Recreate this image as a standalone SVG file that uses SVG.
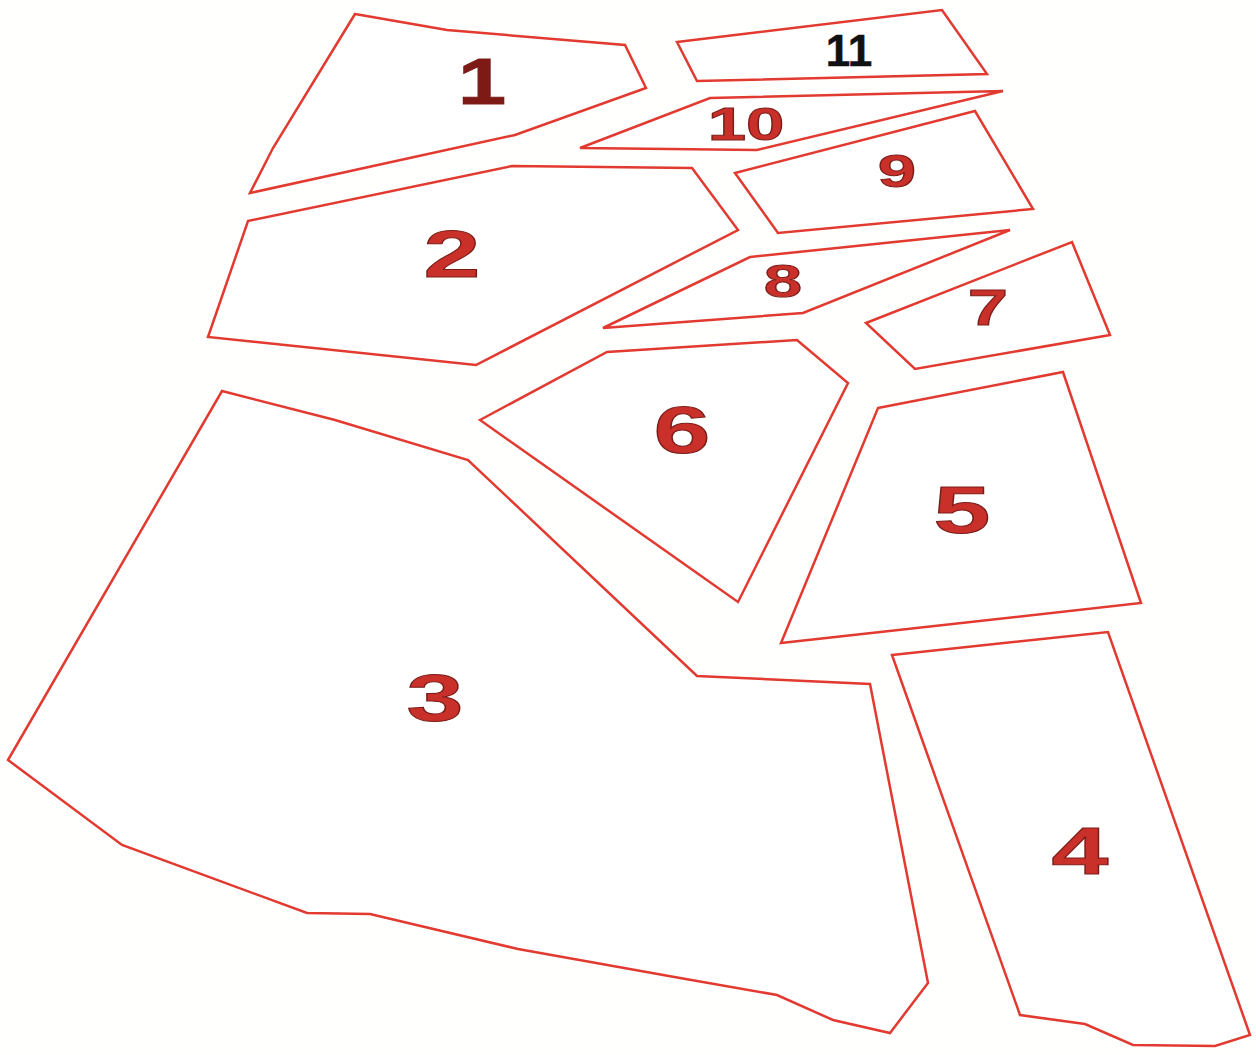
<svg xmlns="http://www.w3.org/2000/svg" width="1256" height="1055" viewBox="0 0 1256 1055">
<style>
.p{fill:#ffffff;stroke:#e23a30;stroke-width:2.5;stroke-linejoin:miter}
.t{font-family:"Liberation Sans",Arial,sans-serif;font-weight:bold;fill:#c9302a;stroke:#7a1c17;stroke-width:1;text-anchor:middle}
.k{fill:#111;stroke:#111;stroke-width:0.5}
</style>
<rect width="1256" height="1055" fill="#fffffd"/>
<g id="n1"><polygon class="p" points="355,14 447,30 625,45 646,88 515,135 250,193 273,148"/><text class="t" transform="translate(482,104) scale(1.35,1)" font-size="64" style="fill:#7e1a16">1</text></g>
<g id="n11"><polygon class="p" points="677,42 942,10 987,74 697,81"/><text class="t k" transform="translate(849,66) scale(1.0,1)" font-size="44">11</text></g>
<g id="n10"><polygon class="p" points="580,148 710,98 1003,91 757,150"/><text class="t" transform="translate(746,140) scale(1.5,1)" font-size="46">10</text></g>
<g id="n9"><polygon class="p" points="735,173 975,111 1033,209 778,233"/><text class="t" transform="translate(897,187) scale(1.5,1)" font-size="46">9</text></g>
<g id="n8"><polygon class="p" points="750,257 1010,230 803,313 603,328"/><text class="t" transform="translate(783,297) scale(1.5,1)" font-size="46">8</text></g>
<g id="n7"><polygon class="p" points="866,323 1072,242 1110,335 915,369"/><text class="t" transform="translate(988,325) scale(1.45,1)" font-size="50">7</text></g>
<g id="n2"><polygon class="p" points="248,221 512,166 692,168 738,230 476,365 208,337"/><text class="t" transform="translate(452,277) scale(1.55,1)" font-size="66">2</text></g>
<g id="n6"><polygon class="p" points="480,420 607,352 797,340 848,383 738,602"/><text class="t" transform="translate(682,453) scale(1.55,1)" font-size="66">6</text></g>
<g id="n5"><polygon class="p" points="878,408 1063,372 1141,603 781,643"/><text class="t" transform="translate(962,533) scale(1.55,1)" font-size="66">5</text></g>
<g id="n4"><polygon class="p" points="892,655 1108,632 1250,1035 1215,1046 1133,1045 1085,1024 1020,1015"/><text class="t" transform="translate(1080,874) scale(1.55,1)" font-size="66">4</text></g>
<g id="n3"><polygon class="p" points="222,391 335,420 468,460 697,676 870,684 928,983 890,1033 833,1020 777,995 680,978 518,949 370,914 307,913 122,845 8,760"/><text class="t" transform="translate(435,721) scale(1.55,1)" font-size="66">3</text></g>
<g id="connectors"></g>
</svg>
